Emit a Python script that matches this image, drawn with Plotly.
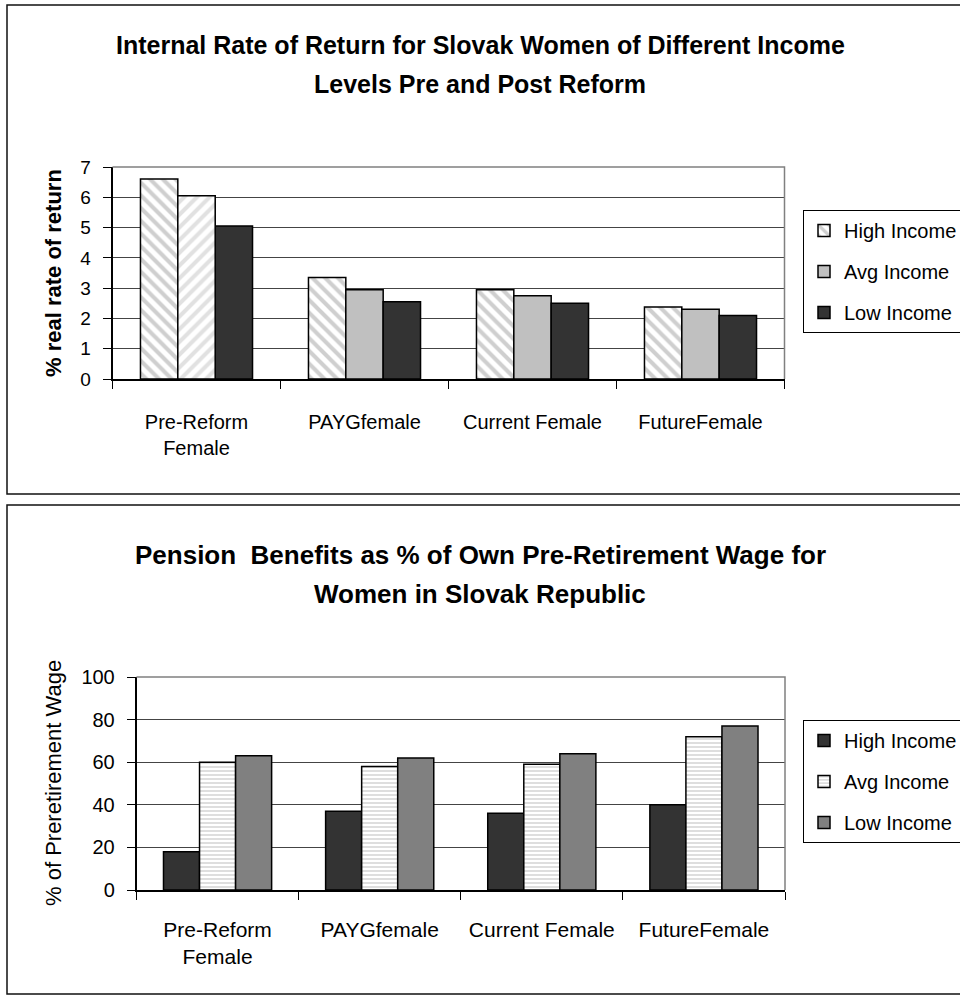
import plotly.graph_objects as go

# Categories shared by both panels
categories = ["Pre-Reform", "PAYGfemale", "Current Female", "FutureFemale"]
category_labels = ["Pre-Reform<br>Female", "PAYGfemale", "Current Female", "FutureFemale"]
series_names = ["High Income", "Avg Income", "Low Income"]

# Panel 1: internal rate of return (% real)
irr_high = [6.6, 3.35, 2.95, 2.38]
irr_avg = [6.05, 2.95, 2.75, 2.3]
irr_low = [5.05, 2.55, 2.5, 2.1]

# Panel 2: pension benefit as % of own pre-retirement wage
ben_high = [18, 37, 36, 40]
ben_avg = [60, 58, 59, 72]
ben_low = [63, 62, 64, 77]

titles_top = ["Internal Rate of Return for Slovak Women of Different Income",
              "Levels Pre and Post Reform"]
titles_bottom = ["Pension  Benefits as % of Own Pre-Retirement Wage for",
                 "Women in Slovak Republic"]
ytitle_top = "% real rate of return"
ytitle_bottom = "% of Preretirement Wage"

FONT = "Liberation Sans, Arial, sans-serif"
OUTLINE = dict(color="black", width=1.5)
W, H = 960, 1000


def px(x):
    return x / W


def py(y):
    return 1 - y / H


fig = go.Figure()

# --- top panel bars ---
fig.add_trace(go.Bar(
    x=categories, y=irr_high, name=series_names[0], offsetgroup="hi",
    legendgroup="hi", legend="legend",
    marker=dict(color="white", line=OUTLINE,
                pattern=dict(shape="\\", fgcolor="#a0a0a0", bgcolor="white",
                             size=9, solidity=0.45)),
    xaxis="x", yaxis="y"))
fig.add_trace(go.Bar(
    x=categories, y=irr_avg, name=series_names[1], offsetgroup="avg",
    legendgroup="avg", legend="legend",
    marker=dict(color="#c0c0c0", line=OUTLINE),
    xaxis="x", yaxis="y"))
fig.add_trace(go.Bar(
    x=categories, y=irr_low, name=series_names[2], offsetgroup="lo",
    legendgroup="lo", legend="legend",
    marker=dict(color="#333333", line=OUTLINE),
    xaxis="x", yaxis="y"))
# the pre-reform average bar carries its own hatch
fig.add_trace(go.Bar(
    x=categories[:1], y=irr_avg[:1], name=series_names[1], offsetgroup="avg",
    legendgroup="avg", showlegend=False,
    marker=dict(color="white", line=OUTLINE,
                pattern=dict(shape="/", fgcolor="#c4c4c4", bgcolor="white",
                             size=9, solidity=0.45)),
    xaxis="x", yaxis="y"))

# --- bottom panel bars ---
fig.add_trace(go.Bar(
    x=categories, y=ben_high, name=series_names[0], offsetgroup="hi",
    legendgroup="hi2", legend="legend2",
    marker=dict(color="#333333", line=OUTLINE),
    xaxis="x2", yaxis="y2"))
fig.add_trace(go.Bar(
    x=categories, y=ben_avg, name=series_names[1], offsetgroup="avg",
    legendgroup="avg2", legend="legend2",
    marker=dict(color="white", line=OUTLINE,
                pattern=dict(shape="-", fgcolor="#bdbdbd", bgcolor="white",
                             size=4, solidity=0.5)),
    xaxis="x2", yaxis="y2"))
fig.add_trace(go.Bar(
    x=categories, y=ben_low, name=series_names[2], offsetgroup="lo",
    legendgroup="lo2", legend="legend2",
    marker=dict(color="#808080", line=OUTLINE),
    xaxis="x2", yaxis="y2"))


def xaxis_style(size, standoff):
    return dict(type="category", categoryorder="array", categoryarray=categories,
                tickvals=categories, ticktext=category_labels, tickangle=0,
                tickson="boundaries", ticks="outside", ticklen=8,
                tickcolor="black", showline=True, linecolor="black",
                linewidth=1.5, showgrid=False,
                tickfont=dict(family=FONT, size=size, color="black"),
                ticklabelstandoff=standoff, fixedrange=True)


def yaxis_style(size):
    return dict(ticks="outside", ticklen=8, tickcolor="black", showline=True,
                linecolor="black", linewidth=1.5, showgrid=True,
                gridcolor="#444444", gridwidth=1, zeroline=False,
                tickfont=dict(family=FONT, size=size, color="black"),
                ticklabelstandoff=8, fixedrange=True)


legend_style = dict(xanchor="left", yanchor="top", bgcolor="white",
                    bordercolor="black", borderwidth=1,
                    font=dict(family=FONT, size=20, color="black"),
                    traceorder="grouped", tracegroupgap=12, itemclick=False)

fig.update_layout(
    width=W, height=H,
    margin=dict(l=0, r=0, t=0, b=0, autoexpand=False),
    paper_bgcolor="white", plot_bgcolor="white",
    barmode="group", bargap=0.333, bargroupgap=0,
    font=dict(family=FONT, color="black"),
    xaxis=dict(domain=[px(112.5), px(784.5)], anchor="y", **xaxis_style(20, 24)),
    yaxis=dict(domain=[py(379), py(167)], anchor="x", range=[0, 7], dtick=1,
               **yaxis_style(19)),
    xaxis2=dict(domain=[px(136.5), px(785)], anchor="y2", **xaxis_style(21, 20)),
    yaxis2=dict(domain=[py(890), py(677)], anchor="x2", range=[0, 100],
                dtick=20, **yaxis_style(20)),
    legend=dict(x=px(803), y=py(210), **legend_style),
    legend2=dict(x=px(803), y=py(720), **legend_style),
    showlegend=True,
)

shapes = []
# chart frames
for y_top, y_bot in [(5, 494), (505, 994)]:
    shapes.append(dict(type="rect", xref="paper", yref="paper",
                       x0=px(7), x1=1.02, y0=py(y_bot), y1=py(y_top),
                       line=dict(color="#111111", width=1.5), layer="below"))
# plot-area borders (top and right edges)
for xa, ya in [("x", "y"), ("x2", "y2")]:
    shapes.append(dict(type="path", xref=f"{xa} domain", yref=f"{ya} domain",
                       path="M 0 1 L 1 1 L 1 0",
                       line=dict(color="#808080", width=1.5), layer="above"))
fig.update_layout(shapes=shapes)

annotations = []
for lines, y0, size in [(titles_top, 45, 25), (titles_bottom, 555, 26)]:
    for i, line in enumerate(lines):
        annotations.append(dict(text=f"<b>{line}</b>", xref="paper",
                                yref="paper", x=0.5, y=py(y0 + 39 * i),
                                xanchor="center", yanchor="middle",
                                showarrow=False,
                                font=dict(family=FONT, size=size, color="black")))
annotations.append(dict(text=f"<b>{ytitle_top}</b>", xref="paper",
                        yref="paper", x=px(53), y=py(273), textangle=-90,
                        xanchor="center", yanchor="middle", showarrow=False,
                        font=dict(family=FONT, size=22, color="black")))
annotations.append(dict(text=ytitle_bottom, xref="paper", yref="paper",
                        x=px(53), y=py(783), textangle=-90,
                        xanchor="center", yanchor="middle", showarrow=False,
                        font=dict(family=FONT, size=22, color="black")))
fig.update_layout(annotations=annotations)

fig.write_html("out.html")
